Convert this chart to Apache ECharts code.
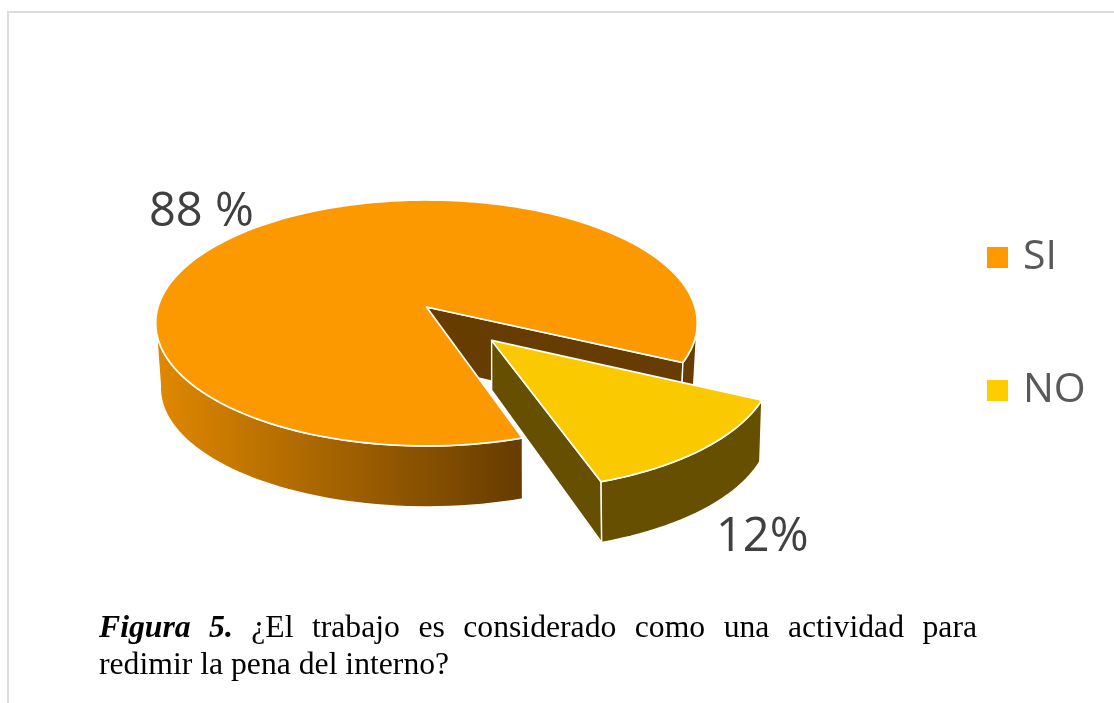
<!DOCTYPE html>
<html><head><meta charset="utf-8">
<style>html,body{margin:0;padding:0;background:#fff}#c{width:1114px;height:703px}</style>
<script src="https://cdn.jsdelivr.net/npm/echarts@6/dist/echarts.min.js"></script>
</head><body><div id="c"></div>
<script>
var categories = ['SI', 'NO'];
var values = [88, 12];
var valueLabels = ['88 %', '12%'];
var captionLead = ['Figura', '5.'];
var captionLine1 = ['¿El', 'trabajo', 'es', 'considerado', 'como', 'una', 'actividad', 'para'];
var captionLine2 = 'redimir la pena del interno?';

// 3D view parameters (layout only)
var cx = 426.5, topCy = 307;
var topB = 268.5, topA = 120.9, topP = 0.13;
var botCx = 427, botCy = 371, botB = 264, botA = 116.6, botP = 0.142;
var hubBottomBig = 366, hubBottomNo = 358;
var startDeg = 25.7, viewStretch = 1.066, explode = 0.355;
var leftTangentDeg = 173, rightTangentDeg = 7;
var topColors = ['#FD9900', '#FBC900'];
var legendColors = ['#FF9900', '#FFCC00'];
var rad = Math.PI / 180;

function proj(X, Y, bottom) {
  if (bottom) { var wb = 1 / (1 - botP * Y); return [botCx + botB * X * wb, botCy + botA * Y * wb]; }
  var w = 1 / (1 - topP * Y);
  return [cx + topB * X * w, topCy + topA * Y * w];
}
function rim(o, a, bottom) { return proj(o[0] + Math.cos(a * rad), o[1] + Math.sin(a * rad), bottom); }
function arc(o, a0, a1, bottom) {
  var pts = [], n = Math.max(8, Math.ceil(Math.abs(a1 - a0) / 2));
  for (var i = 0; i <= n; i++) pts.push(rim(o, a0 + (a1 - a0) * i / n, bottom));
  return pts;
}
function poly(points, fill, lw) {
  return { type: 'polygon', shape: { points: points },
    style: { fill: fill, stroke: '#fff', lineWidth: lw == null ? 1.4 : lw, lineJoin: 'round' } };
}
function renderSlice(params, api) {
  var i = params.seriesIndex;
  var total = values[0] + values[1];
  var noSweep = values[1] / total * 360 * viewStretch;
  var a0 = startDeg, a1 = startDeg + noSweep;
  var kids = [];
  if (i === 0) {
    var o = [0, 0];
    var c = proj(0, 0, false), cb = [c[0], hubBottomBig];
    kids.push(poly([c, rim(o, a0, false), rim(o, a0, true), cb], '#663C00'));
    kids.push(poly(arc(o, rightTangentDeg, a0, false).concat(arc(o, a0, rightTangentDeg, true)), '#663C00'));
    kids.push(poly(arc(o, a1, leftTangentDeg, false).concat(arc(o, leftTangentDeg, a1, true)), {
      type: 'linear', global: true, x: 156, y: 0, x2: 522, y2: 0,
      colorStops: [{ offset: 0, color: '#E08800' }, { offset: 1, color: '#663C00' }]
    }));
    kids.push(poly([c].concat(arc(o, a1, a0 + 360, false)), topColors[0], 1.7));
    kids.push({ type: 'text', style: { text: valueLabels[0], x: 149, y: 213, verticalAlign: 'middle',
      font: '47px "Open Sans"', fill: '#404040' } });
  } else {
    var mid = (a0 + a1) / 2 * rad;
    var e = [explode * Math.cos(mid), explode * Math.sin(mid)];
    var ec = proj(e[0], e[1], false), ecb = [ec[0], hubBottomNo + topA * e[1]];
    kids.push(poly([ec, rim(e, a1, false), rim(e, a1, true), ecb], '#665000'));
    kids.push(poly(arc(e, a0, a1, false).concat(arc(e, a1, a0, true)), '#665000'));
    kids.push(poly([ec].concat(arc(e, a0, a1, false)), topColors[1], 1.7));
    kids.push({ type: 'text', style: { text: valueLabels[1], x: 716, y: 538, verticalAlign: 'middle',
      font: '47px "Open Sans"', fill: '#404040' } });
  }
  return { type: 'group', children: kids };
}

// caption, first line justified word by word
var serif = '"Liberation Serif"';
var fs = 31.7;
var fontBI = 'italic bold ' + fs + 'px ' + serif, fontR = fs + 'px ' + serif;
var meas = document.createElement('canvas').getContext('2d');
function tw(t, f) { meas.font = f; return meas.measureText(t).width; }
var words = captionLead.map(function (t) { return { t: t, f: fontBI }; })
  .concat(captionLine1.map(function (t) { return { t: t, f: fontR }; }));
var left = 99, right = 977, sum = 0;
words.forEach(function (w) { sum += tw(w.t, w.f); });
var gap = (right - left - sum) / (words.length - 1);
var gx = left, graphics = [];
words.forEach(function (w) {
  graphics.push({ type: 'text', x: gx, y: 629, style: { text: w.t, font: w.f, fill: '#000', verticalAlign: 'middle' } });
  gx += tw(w.t, w.f) + gap;
});
graphics.push({ type: 'text', x: left, y: 666, style: { text: captionLine2, font: fontR, fill: '#000', verticalAlign: 'middle' } });
graphics.push({ type: 'line', shape: { x1: 8, y1: 12, x2: 1114, y2: 12 }, style: { stroke: '#DDDDDD', lineWidth: 2 } });
graphics.push({ type: 'line', shape: { x1: 8, y1: 11, x2: 8, y2: 703 }, style: { stroke: '#DDDDDD', lineWidth: 2 } });

var chart = echarts.init(document.getElementById('c'));
chart.setOption({
  animation: false,
  backgroundColor: '#fff',
  legend: {
    orient: 'vertical', left: 987, top: 237, padding: 0, itemWidth: 21, itemHeight: 21, itemGap: 92,
    icon: 'rect', data: categories, selectedMode: false,
    textStyle: { fontFamily: 'Open Sans', fontSize: 41, color: '#595959', lineHeight: 21, padding: [0, 0, 0, 10] }
  },
  graphic: graphics,
  series: categories.map(function (name, i) {
    return { type: 'custom', name: name, coordinateSystem: 'none', renderItem: renderSlice,
      itemStyle: { color: legendColors[i] }, data: [[values[i]]], silent: true, z: 2 + i };
  })
});
</script></body></html>
